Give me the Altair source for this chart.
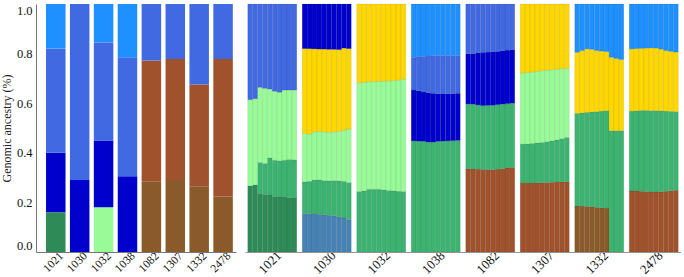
import altair as alt
import pandas as pd

# ---- colours of ancestry components ----
comp_names = ["dodger", "royal", "medblue", "steel", "seagreen", "msg", "pale", "gold", "sienna", "brown"]
comp_colors = ["#1E90FF", "#4169E1", "#0000CD", "#4682B4", "#2E8B57", "#3CB371", "#98FB98", "#FFD700", "#A0522D", "#8B5A2B"]

pops = ["1021", "1030", "1032", "1038", "1082", "1307", "1332", "2478"]

# ---- left panel: population-level ancestry (cumulative tops, bottom -> top) ----
left_1021 = [("seagreen", 0.16), ("medblue", 0.40), ("royal", 0.82), ("dodger", 1.0)]
left_1030 = [("medblue", 0.29), ("royal", 1.0)]
left_1032 = [("pale", 0.18), ("medblue", 0.45), ("royal", 0.845), ("dodger", 1.0)]
left_1038 = [("medblue", 0.305), ("royal", 0.785), ("dodger", 1.0)]
left_1082 = [("brown", 0.285), ("sienna", 0.772), ("royal", 1.0)]
left_1307 = [("brown", 0.29), ("sienna", 0.778), ("royal", 1.0)]
left_1332 = [("brown", 0.265), ("sienna", 0.675), ("royal", 1.0)]
left_2478 = [("brown", 0.224), ("sienna", 0.778), ("royal", 1.0)]
left_data = [left_1021, left_1030, left_1032, left_1038, left_1082, left_1307, left_1332, left_2478]

# ---- right panel: individual ancestry (cumulative tops for 10 individuals) ----
ONE = [1.0] * 10
right_1021 = [
    ("seagreen", [0.267, 0.270, 0.236, 0.232, 0.230, 0.224, 0.222, 0.224, 0.219, 0.218]),
    ("msg",      [0.267, 0.270, 0.361, 0.357, 0.379, 0.370, 0.368, 0.370, 0.373, 0.372]),
    ("pale",     [0.614, 0.618, 0.664, 0.660, 0.657, 0.648, 0.644, 0.653, 0.653, 0.653]),
    ("royal",    ONE),
]
right_1030 = [
    ("steel",    [0.155, 0.155, 0.153, 0.152, 0.150, 0.148, 0.146, 0.142, 0.137, 0.130]),
    ("msg",      [0.283, 0.285, 0.290, 0.291, 0.288, 0.287, 0.288, 0.287, 0.285, 0.280]),
    ("pale",     [0.478, 0.476, 0.485, 0.486, 0.485, 0.482, 0.485, 0.486, 0.491, 0.496]),
    ("gold",     [0.820, 0.820, 0.819, 0.818, 0.818, 0.817, 0.817, 0.816, 0.822, 0.820]),
    ("medblue",  ONE),
]
right_1032 = [
    ("msg",      [0.244, 0.246, 0.253, 0.253, 0.253, 0.250, 0.248, 0.246, 0.245, 0.244]),
    ("pale",     [0.683, 0.684, 0.687, 0.687, 0.688, 0.689, 0.690, 0.691, 0.693, 0.697]),
    ("gold",     ONE),
]
right_1038 = [
    ("msg",      [0.448, 0.447, 0.446, 0.443, 0.443, 0.446, 0.447, 0.448, 0.449, 0.450]),
    ("medblue",  [0.653, 0.650, 0.645, 0.642, 0.640, 0.638, 0.637, 0.638, 0.639, 0.640]),
    ("royal",    [0.785, 0.787, 0.789, 0.790, 0.792, 0.792, 0.792, 0.792, 0.792, 0.792]),
    ("dodger",   ONE),
]
right_1082 = [
    ("sienna",   [0.335, 0.335, 0.334, 0.333, 0.331, 0.332, 0.334, 0.336, 0.339, 0.341]),
    ("msg",      [0.597, 0.596, 0.593, 0.590, 0.591, 0.592, 0.594, 0.596, 0.598, 0.600]),
    ("medblue",  [0.799, 0.800, 0.803, 0.805, 0.806, 0.807, 0.809, 0.811, 0.814, 0.816]),
    ("royal",    ONE),
]
right_1307 = [
    ("sienna",   [0.278, 0.278, 0.278, 0.279, 0.279, 0.280, 0.281, 0.282, 0.283, 0.283]),
    ("msg",      [0.435, 0.436, 0.438, 0.440, 0.442, 0.445, 0.448, 0.452, 0.457, 0.462]),
    ("pale",     [0.722, 0.724, 0.726, 0.728, 0.731, 0.733, 0.735, 0.737, 0.739, 0.740]),
    ("gold",     ONE),
]
right_1332 = [
    ("brown",    [0.186, 0.185, 0.184, 0.182, 0.180, 0.178, 0.177, 0.0, 0.0, 0.0]),
    ("msg",      [0.559, 0.561, 0.563, 0.565, 0.566, 0.568, 0.570, 0.489, 0.489, 0.489]),
    ("gold",     [0.805, 0.812, 0.819, 0.817, 0.812, 0.810, 0.808, 0.785, 0.780, 0.776]),
    ("dodger",   ONE),
]
right_2478 = [
    ("sienna",   [0.246, 0.246, 0.245, 0.244, 0.242, 0.242, 0.243, 0.245, 0.247, 0.249]),
    ("msg",      [0.568, 0.569, 0.571, 0.571, 0.570, 0.570, 0.569, 0.568, 0.567, 0.566]),
    ("gold",     [0.819, 0.820, 0.821, 0.822, 0.823, 0.822, 0.818, 0.812, 0.809, 0.806]),
    ("dodger",   ONE),
]
right_data = [right_1021, right_1030, right_1032, right_1038, right_1082, right_1307, right_1332, right_2478]

# ---- build tables ----
rows_l = []
for p, layers in zip(pops, left_data):
    prev = 0.0
    for k, (c, top) in enumerate(layers):
        rows_l.append({"pop": p, "comp": c, "y0": prev, "y1": top, "layer": k})
        prev = top
df_left = pd.DataFrame(rows_l)

rows_r = []
for p, layers in zip(pops, right_data):
    prev = [0.0] * 10
    for k, (c, tops) in enumerate(layers):
        for i in range(10):
            if tops[i] - prev[i] > 1e-6:
                rows_r.append({"pop": p, "ind": i, "comp": c, "y0": prev[i], "y1": tops[i], "layer": k})
        prev = [max(a, b) for a, b in zip(prev, tops)]
df_right = pd.DataFrame(rows_r)

FONT = "Liberation Serif"
color_scale = alt.Scale(domain=comp_names, range=comp_colors)

left = alt.Chart(df_left).mark_bar(strokeWidth=0).encode(
    x=alt.X("pop:N", sort=pops, title=None,
            scale=alt.Scale(paddingInner=0.184, paddingOuter=0.276, align=0.76),
            axis=alt.Axis(labelAngle=-45, labelAlign="right", labelBaseline="middle",
                          labelFontSize=11.5, labelFont=FONT, labelColor="#111",
                          labelOffset=6, labelPadding=2, ticks=False,
                          domainColor="#777", domainWidth=1)),
    y=alt.Y("y0:Q", scale=alt.Scale(domain=[0, 1], nice=False),
            title="Genomic ancestry (%)",
            axis=alt.Axis(values=[0, 0.2, 0.4, 0.6, 0.8, 1.0], format=".1f", grid=False,
                          ticks=False, labelFontSize=12.5, labelFont=FONT, labelColor="#111",
                          labelPadding=4, labelFlush=True, titleFont=FONT, titleFontSize=12,
                          titleFontWeight="normal", titleColor="#222", titlePadding=3,
                          domainColor="#777", domainWidth=1)),
    y2="y1:Q",
    color=alt.Color("comp:N", scale=color_scale, legend=None),
).properties(width=200, height=248)

right = alt.Chart(df_right).mark_bar(stroke="#000000", strokeOpacity=0.12, strokeWidth=0.6).encode(
    x=alt.X("pop:N", sort=pops, title=None,
            scale=alt.Scale(paddingInner=0.1, paddingOuter=0.05),
            axis=alt.Axis(labelAngle=-45, labelAlign="right", labelBaseline="middle",
                          labelFontSize=13, labelFont=FONT, labelColor="#111",
                          labelOffset=7, labelPadding=1, ticks=False,
                          domainColor="#999", domainWidth=1)),
    xOffset=alt.XOffset("ind:O", scale=alt.Scale(paddingInner=0, paddingOuter=0)),
    y=alt.Y("y0:Q", scale=alt.Scale(domain=[0, 1], nice=False), axis=None),
    y2="y1:Q",
    color=alt.Color("comp:N", scale=color_scale, legend=None),
).properties(width=436, height=248)

chart = alt.hconcat(left, right, spacing=9).properties(
    padding={"left": 0, "top": 3, "right": 0, "bottom": 0},
    background="white",
).configure_view(stroke=None)

chart.save("out.html", embed_options={"renderer": "svg", "actions": False})
